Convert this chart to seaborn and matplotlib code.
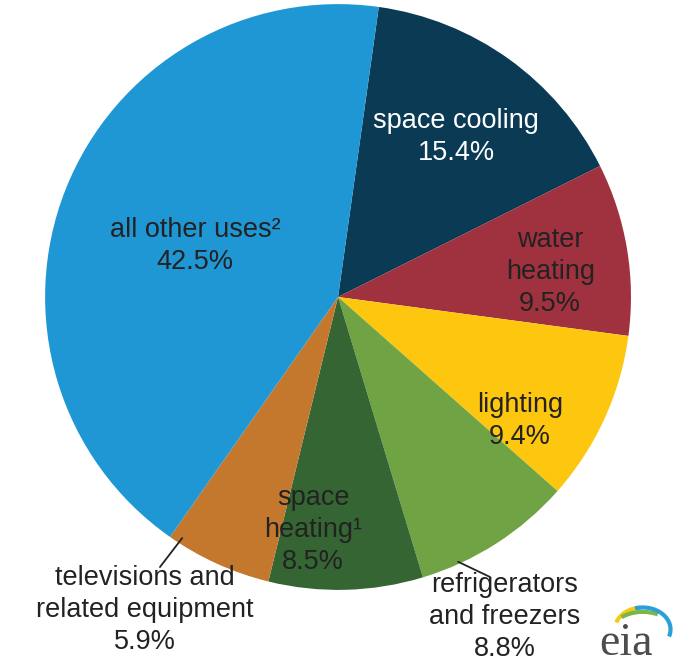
import matplotlib
matplotlib.use('Agg')
import matplotlib.pyplot as plt
from matplotlib.patches import Arc
import seaborn as sns

# share of residential electricity consumption by end use
uses = ['space cooling', 'water heating', 'lighting',
        'refrigerators and freezers', 'space heating',
        'televisions and related equipment', 'all other uses']
shares = [15.4, 9.5, 9.4, 8.8, 8.5, 5.9, 42.5]
labels = ['space cooling\n15.4%', 'water\nheating\n9.5%', 'lighting\n9.4%',
          'refrigerators\nand freezers\n8.8%', 'space\nheating\u00b9\n8.5%',
          'televisions and\nrelated equipment\n5.9%',
          'all other uses\u00b2\n42.5%']
colors = ['#0b3a55', '#a0313f', '#fdc60f', '#6fa343', '#346532',
          '#c4782e', '#1f97d4']

sns.set_theme(style='white')
plt.rcParams['font.family'] = ['Liberation Sans', 'DejaVu Sans']

fig = plt.figure(figsize=(6.84, 6.64), dpi=100)
ax = fig.add_axes([0, 0, 1, 1])
ax.pie(shares, colors=sns.color_palette(colors), startangle=82,
       counterclock=False, radius=1.0,
       wedgeprops={'linewidth': 0})
ax.set_xlim(-1.154, 1.181)
ax.set_ylim(-1.253, 1.014)
ax.set_aspect('auto')
ax.axis('off')

# label placement (data units, pie radius = 1)
label_pos = [(0.403, 0.545), (0.724, 0.085), (0.621, -0.423),
             (0.570, -1.092), (-0.085, -0.795), (-0.659, -1.068),
             (-0.488, 0.174)]
for lab, (x, y), c in zip(labels, label_pos, colors):
    tc = 'white' if c == '#0b3a55' else '#222222'
    ax.text(x, y, lab, ha='center', va='center', fontsize=19.5,
            color=tc, linespacing=1.3)

# leader lines for outside labels
ax.plot([-0.532, -0.608], [-0.823, -0.922], color='#222222', lw=1.3)
ax.plot([0.410, 0.519], [-0.904, -0.956], color='#222222', lw=1.3)

# eia logo
ax.text(0.89, -1.222, 'eia', fontsize=33, color='#4d4d4d',
        family='Liberation Serif', ha='left', va='baseline')
for w, h, col, t1, t2 in [(0.19, 0.15, '#f6c915', 95, 165),
                          (0.20, 0.12, '#7ab648', 45, 150),
                          (0.19, 0.15, '#2a9fd8', -15, 110)]:
    ax.add_patch(Arc((1.04, -1.135), w, h, theta1=t1, theta2=t2,
                     color=col, lw=3))

fig.savefig('out.png', dpi=100)
